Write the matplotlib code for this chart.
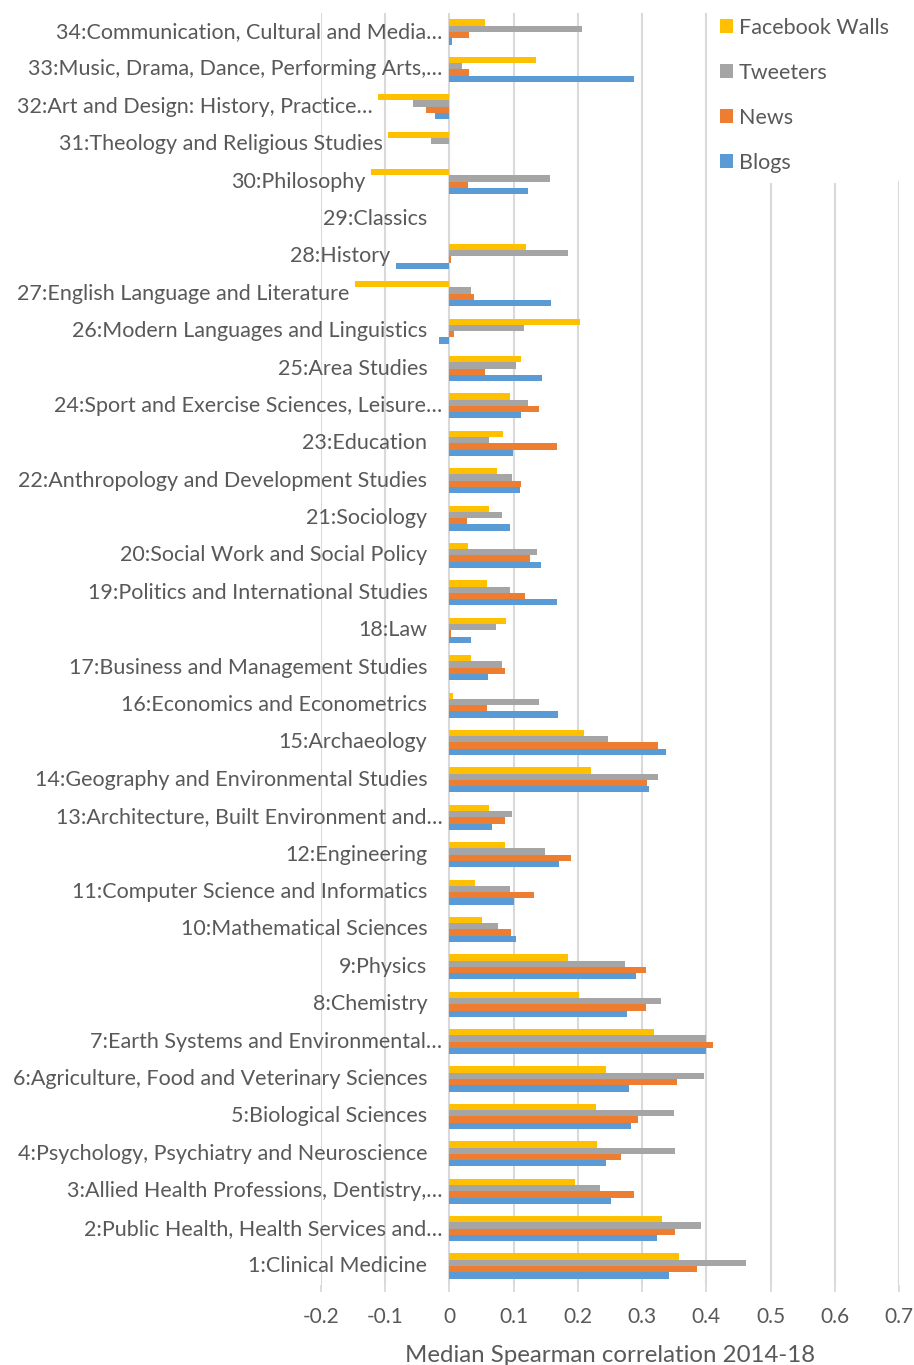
import numpy as np
import matplotlib
matplotlib.use("Agg")
import matplotlib.pyplot as plt
from matplotlib.patches import Patch
from matplotlib import transforms

plt.rcParams['font.family'] = ['Lato', 'DejaVu Sans']

# categories from bottom (1) to top (34)
categories = [
    "1:Clinical Medicine",
    "2:Public Health, Health Services and…",
    "3:Allied Health Professions, Dentistry,…",
    "4:Psychology, Psychiatry and Neuroscience",
    "5:Biological Sciences",
    "6:Agriculture, Food and Veterinary Sciences",
    "7:Earth Systems and Environmental…",
    "8:Chemistry",
    "9:Physics",
    "10:Mathematical Sciences",
    "11:Computer Science and Informatics",
    "12:Engineering",
    "13:Architecture, Built Environment and…",
    "14:Geography and Environmental Studies",
    "15:Archaeology",
    "16:Economics and Econometrics",
    "17:Business and Management Studies",
    "18:Law",
    "19:Politics and International Studies",
    "20:Social Work and Social Policy",
    "21:Sociology",
    "22:Anthropology and Development Studies",
    "23:Education",
    "24:Sport and Exercise Sciences, Leisure…",
    "25:Area Studies",
    "26:Modern Languages and Linguistics",
    "27:English Language and Literature",
    "28:History",
    "29:Classics",
    "30:Philosophy",
    "31:Theology and Religious Studies",
    "32:Art and Design: History, Practice…",
    "33:Music, Drama, Dance, Performing Arts,…",
    "34:Communication, Cultural and Media…",
]

blogs = [0.342, 0.323, 0.251, 0.243, 0.282, 0.279, 0.399, 0.276, 0.291, 0.103,
         0.101, 0.170, 0.066, 0.311, 0.337, 0.169, 0.060, 0.033, 0.168, 0.143,
         0.094, 0.110, 0.099, 0.112, 0.144, -0.017, 0.158, -0.083, 0.0, 0.122,
         0.0, -0.023, 0.287, 0.004]
news = [0.385, 0.351, 0.287, 0.267, 0.294, 0.354, 0.410, 0.306, 0.306, 0.096,
        0.131, 0.189, 0.087, 0.308, 0.324, 0.059, 0.087, 0.002, 0.118, 0.126,
        0.028, 0.112, 0.167, 0.140, 0.056, 0.007, 0.039, 0.003, 0.0, 0.029,
        0.0, -0.037, 0.030, 0.031]
tweeters = [0.461, 0.391, 0.235, 0.351, 0.349, 0.396, 0.400, 0.330, 0.273, 0.076,
            0.095, 0.149, 0.097, 0.324, 0.247, 0.140, 0.082, 0.072, 0.094, 0.137,
            0.082, 0.097, 0.062, 0.123, 0.104, 0.116, 0.033, 0.184, 0.0, 0.156,
            -0.029, -0.056, 0.019, 0.207]
facebook = [0.358, 0.331, 0.195, 0.229, 0.228, 0.243, 0.318, 0.201, 0.185, 0.051,
            0.040, 0.087, 0.061, 0.221, 0.209, 0.006, 0.033, 0.088, 0.058, 0.029,
            0.061, 0.074, 0.084, 0.094, 0.111, 0.204, -0.147, 0.119, 0.0, -0.122,
            -0.095, -0.111, 0.134, 0.055]

x_ticks = [-0.2, -0.1, 0, 0.1, 0.2, 0.3, 0.4, 0.5, 0.6, 0.7]

series = [
    ("Blogs", blogs, "#5B9BD5"),
    ("News", news, "#ED7D31"),
    ("Tweeters", tweeters, "#A5A5A5"),
    ("Facebook Walls", facebook, "#FFC000"),
]

text_color = "#595959"
grid_color = "#D9D9D9"
label_size = 15.5

fig = plt.figure(figsize=(9.14, 13.65), dpi=100)
ax = fig.add_axes([0.3512, 0.0588, 0.9836 - 0.3512, 0.9903 - 0.0588])

y = np.arange(len(categories))
h = 0.168
for k, (name, vals, col) in enumerate(series):
    ax.barh(y + (k - 1.5) * h, vals, height=h, color=col, zorder=3)

ax.set_xlim(-0.2, 0.7)
ax.set_ylim(-0.5, len(categories) - 0.5)
ax.set_xticks(x_ticks)
ax.set_xticklabels(["0" if t == 0 else "{:.1f}".format(t) for t in x_ticks],
                   fontsize=15, color=text_color)
ax.tick_params(axis='x', length=5, width=1.3, color=grid_color, pad=11)
ax.set_yticks([])
for s in ax.spines.values():
    s.set_visible(False)
ax.grid(axis='x', color=grid_color, linewidth=1.5, zorder=0)
ax.set_xlabel("Median Spearman correlation 2014-18", fontsize=17.3,
              color=text_color, labelpad=13)

# category labels next to the axis, pushed left of negative bars
px = transforms.ScaledTranslation
for i, lab in enumerate(categories):
    row_min = min(blogs[i], news[i], tweeters[i], facebook[i])
    off = -7 if lab.endswith("…") else -22
    if row_min < 0:
        neg_off = -6 + row_min / 0.1 * 64.2
        if neg_off < off:
            off = neg_off
    tr = ax.transData + px(off / 100, 0, fig.dpi_scale_trans)
    ax.text(0.0, i, lab, transform=tr, ha='right', va='center',
            fontsize=label_size, color=text_color, zorder=4)

handles = [Patch(facecolor=c, edgecolor='none', label=n) for n, _, c in series[::-1]]
leg = ax.legend(handles=handles, loc='upper left', bbox_to_anchor=(709 / 914, 1 - 7 / 1365),
                bbox_transform=fig.transFigure, frameon=True, facecolor='white',
                edgecolor='none', framealpha=1, fontsize=label_size, handlelength=0.6,
                handleheight=0.6, handletextpad=0.28, labelspacing=1.16,
                borderpad=0.5, borderaxespad=0)
for t in leg.get_texts():
    t.set_color(text_color)
leg.set_zorder(5)

fig.savefig("out.png", dpi=100)
